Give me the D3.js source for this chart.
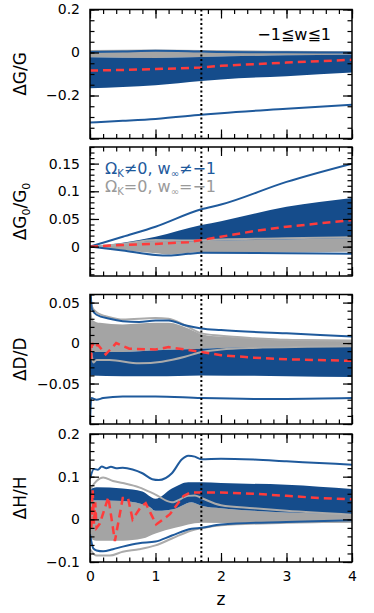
<!DOCTYPE html>
<html>
<head>
<meta charset="utf-8">
<script src="https://cdn.jsdelivr.net/npm/d3@7"></script>
<style>
  body { margin: 0; background: #fff; }
  svg { display: block; font-family: "DejaVu Sans", sans-serif; }
</style>
</head>
<body>
<svg id="chart"></svg>
<script>
const width = 374;
const height = 613;

// Redshift axis
const zTicks = [0, 1, 2, 3, 4];
const zMark = 1.7;

// Panel 1: dG/G
const gGrayHi = [[0, 0.012], [1, 0.014], [1.7, 0.012], [3, 0.008], [4, 0.006]];
const gGrayLo = [[0, -0.022], [1, -0.025], [1.7, -0.021], [3, -0.013], [4, -0.009]];
const gBlueHi = [[0, -0.022], [1, -0.025], [1.7, -0.021], [3, -0.013], [4, -0.009]];
const gBlueLo = [[0, -0.166], [0.5, -0.16], [1, -0.152], [1.7, -0.132], [2, -0.125], [3, -0.11], [4, -0.093]];
const gBlueUp = [[0, 0.002], [0.5, 0.005], [1, 0.008], [1.5, 0.006], [2, 0.002], [3, 0.001], [4, 0.0]];
const gBlueDown = [[0, -0.326], [0.5, -0.318], [1, -0.309], [1.7, -0.29], [2, -0.282], [3, -0.262], [4, -0.243]];
const gRed = [[0, -0.084], [0.5, -0.081], [1, -0.077], [1.7, -0.07], [2, -0.062], [3, -0.047], [4, -0.034]];

// Panel 2: dG0/G0
const g0GrayHi = [[0, 0], [0.5, 0.004], [1, 0.01], [1.5, 0.009], [2, 0.011], [3, 0.013], [4, 0.015]];
const g0GrayLo = [[0, 0], [0.5, -0.006], [1, -0.012], [1.2, -0.014], [1.7, -0.01], [2.5, -0.01], [4, -0.009]];
const g0BlueHi = [[0, 0], [0.5, 0.007], [1, 0.018], [1.7, 0.039], [2, 0.046], [3, 0.072], [4, 0.088]];
const g0BlueLo = [[0, 0], [0.5, 0.004], [1, 0.01], [1.5, 0.009], [2, 0.011], [3, 0.013], [4, 0.015]];
const g0BlueUp = [[0, 0], [0.5, 0.018], [1, 0.036], [1.7, 0.0675], [2, 0.076], [3, 0.117], [4, 0.15]];
const g0BlueDown = [[0, 0], [0.5, -0.007], [1, -0.015], [1.2, -0.016], [1.5, -0.013], [1.7, -0.011], [3, -0.012], [4, -0.013]];
const g0GrayUp = [[0, 0], [0.5, 0.005], [1, 0.012], [1.5, 0.011], [2, 0.013], [3, 0.015], [4, 0.017]];
const g0Red = [[0, 0], [0.5, 0.003], [1, 0.005], [1.5, 0.008], [1.7, 0.012], [2, 0.018], [2.5, 0.028], [3, 0.036], [3.5, 0.042], [4, 0.048]];

// Panel 3: dD/D
const dGrayHi = [[0, 0.062], [0.02, 0.04], [0.05, 0.028], [0.15, 0.025], [0.5, 0.023], [1, 0.025], [1.2, 0.025], [1.5, 0.018], [1.7, 0.011], [2, 0.008], [3, 0.005], [4, 0.004]];
const dGrayLo = [[0, -0.011], [0.5, -0.011], [1, -0.009], [1.7, -0.007], [2.5, -0.005], [4, -0.004]];
const dBlueHi = [[0, -0.011], [0.5, -0.011], [1, -0.009], [1.7, -0.007], [2.5, -0.005], [4, -0.004]];
const dBlueLo = [[0, -0.04], [0.5, -0.041], [1, -0.041], [1.7, -0.04], [3, -0.041], [4, -0.042]];
const dBlueUp = [[0, 0.075], [0.03, 0.042], [0.1, 0.035], [0.3, 0.03], [0.5, 0.027], [0.75, 0.026], [1, 0.028], [1.2, 0.028], [1.45, 0.022], [1.7, 0.018], [2, 0.016], [3, 0.012], [4, 0.008]];
const dBlueDown = [[0, -0.1], [0.02, -0.068], [0.1, -0.07], [0.2, -0.068], [0.5, -0.066], [1, -0.066], [1.7, -0.068], [2.5, -0.069], [3, -0.069], [4, -0.068]];
const dGrayUp = [[0, 0.07], [0.03, 0.045], [0.1, 0.038], [0.3, 0.032], [0.5, 0.029], [1, 0.031], [1.2, 0.03], [1.45, 0.022], [1.7, 0.012], [2, 0.009], [2.5, 0.006], [3, 0.004], [4, 0.003]];
const dGrayDown = [[0, -0.005], [0.02, -0.012], [0.05, -0.024], [0.1, -0.021], [0.3, -0.021], [0.75, -0.025], [1.1, -0.023], [1.45, -0.017], [1.7, -0.011], [2, -0.008], [2.5, -0.006], [4, -0.004]];
const dRed = [[0, -0.002], [0.015, -0.02], [0.03, 0.0], [0.06, -0.006], [0.12, -0.002], [0.24, -0.014], [0.4, 0.0], [0.6, -0.007], [1.0, -0.008], [1.2, -0.005], [1.45, -0.008], [1.7, -0.011], [2, -0.015], [2.5, -0.018], [3, -0.02], [4, -0.022]];

// Panel 4: dH/H
const hGrayHi = [[0, 0.045], [0.5, 0.043], [0.9, 0.03], [1.0, 0.02], [1.2, 0.022], [1.3, 0.025], [1.55, 0.04], [1.7, 0.032], [2, 0.026], [2.5, 0.02], [3, 0.016], [4, 0.012]];
const hGrayLo = [[0, -0.045], [0.1, -0.05], [0.5, -0.05], [0.8, -0.045], [1, -0.033], [1.3, -0.02], [1.7, -0.008], [2.5, -0.009], [4, -0.008]];
const hBlueHi = [[0, 0.07], [0.1, 0.075], [0.5, 0.072], [0.8, 0.065], [1.0, 0.048], [1.25, 0.072], [1.5, 0.087], [1.7, 0.087], [2, 0.085], [3, 0.081], [4, 0.071]];
const hBlueLo = [[0, 0.045], [0.5, 0.043], [0.9, 0.03], [1.0, 0.02], [1.2, 0.022], [1.3, 0.025], [1.55, 0.04], [1.7, 0.032], [2, 0.026], [2.5, 0.02], [3, 0.016], [4, 0.012]];
const hBlueUp = [[0, 0.095], [0.06, 0.118], [0.12, 0.116], [0.18, 0.124], [0.25, 0.12], [0.32, 0.123], [0.4, 0.12], [0.5, 0.121], [0.65, 0.117], [0.8, 0.108], [0.95, 0.094], [1.05, 0.092], [1.25, 0.108], [1.4, 0.14], [1.5, 0.149], [1.6, 0.147], [1.7, 0.141], [2, 0.142], [2.5, 0.14], [3, 0.136], [3.5, 0.132], [4, 0.128]];
const hBlueDown = [[0, -0.035], [0.05, -0.068], [0.1, -0.073], [0.2, -0.075], [0.35, -0.07], [0.5, -0.064], [0.75, -0.056], [1, -0.052], [1.25, -0.038], [1.55, -0.022], [1.7, -0.02], [2, -0.012], [3, -0.006], [4, -0.002]];
const hGrayUp = [[0, 0.07], [0.1, 0.09], [0.2, 0.098], [0.35, 0.09], [0.5, 0.085], [0.75, 0.075], [1, 0.058], [1.25, 0.04], [1.5, 0.055], [1.6, 0.056], [1.7, 0.05], [2, 0.033], [2.5, 0.026], [3, 0.02], [4, 0.011]];
const hGrayDown = [[0, -0.07], [0.1, -0.085], [0.3, -0.085], [0.5, -0.076], [0.75, -0.07], [1, -0.061], [1.25, -0.045], [1.55, -0.026], [1.7, -0.021], [2, -0.014], [3, -0.008], [4, -0.005]];
const hRed = [[0, 0.01], [0.02, -0.02], [0.04, 0.07], [0.06, -0.01], [0.08, 0.04], [0.1, -0.02], [0.15, -0.01], [0.28, 0.052], [0.38, -0.051], [0.5, 0.05], [0.58, 0.05], [0.65, 0.0], [0.78, 0.03], [0.85, 0.038], [1.01, -0.012], [1.22, 0.012], [1.43, 0.055], [1.53, 0.063], [1.7, 0.063], [2, 0.063], [2.5, 0.06], [3, 0.055], [3.5, 0.05], [4, 0.047]];

const blueFill = "#154c8b";
const blueLine = "#1f5a9c";
const grayFill = "#a4a4a4";
const grayLine = "#ababab";
const redLine = "#ff3b3b";

const panels = [
  { top: 9.5, bottom: 138.5, domain: [-0.4, 0.2], labels: [-0.2, 0, 0.2], major: [-0.4, -0.2, 0, 0.2], minor: 0.05,
    title: ["ΔG/G"], grayHi: gGrayHi, grayLo: gGrayLo, blueHi: gBlueHi, blueLo: gBlueLo,
    grayLines: [], blueLines: [gBlueUp, gBlueDown], red: gRed },
  { top: 147, bottom: 276, domain: [-0.053, 0.18], labels: [0, 0.05, 0.1, 0.15], major: [0, 0.05, 0.1, 0.15], minor: 0.01,
    title: ["ΔG", "0", "/G", "0"], grayHi: g0GrayHi, grayLo: g0GrayLo, blueHi: g0BlueHi, blueLo: g0BlueLo,
    grayLines: [g0GrayUp], blueLines: [g0BlueUp, g0BlueDown], red: g0Red },
  { top: 294.5, bottom: 424, domain: [-0.1, 0.06], labels: [-0.05, 0, 0.05], major: [-0.1, -0.05, 0, 0.05], minor: 0.01,
    title: ["ΔD/D"], grayHi: dGrayHi, grayLo: dGrayLo, blueHi: dBlueHi, blueLo: dBlueLo,
    grayLines: [dGrayUp, dGrayDown], blueLines: [dBlueUp, dBlueDown], red: dRed },
  { top: 434, bottom: 562, domain: [-0.1, 0.2], labels: [-0.1, 0, 0.1, 0.2], major: [-0.1, 0, 0.1, 0.2], minor: 0.02,
    title: ["ΔH/H"], grayHi: hGrayHi, grayLo: hGrayLo, blueHi: hBlueHi, blueLo: hBlueLo,
    grayLines: [hGrayUp, hGrayDown], blueLines: [hBlueUp, hBlueDown], red: hRed },
];

const left = 90;
const right = 352;

const svg = d3.select("#chart").attr("width", width).attr("height", height);

const x = d3.scaleLinear().domain([0, 4]).range([left, right]);
const xMinor = d3.range(0, 4.001, 0.2);

function bandPath(hi, lo, y) {
  // Upper edge left to right, lower edge back right to left.
  const line = d3.line().x((d) => x(d[0])).y((d) => y(d[1])).curve(d3.curveMonotoneX);
  const upper = line(hi);
  const lower = line(lo.slice().reverse());
  return upper + "L" + lower.slice(1) + "Z";
}

function drawPanel(p, i) {
  const y = d3.scaleLinear().domain(p.domain).range([p.bottom, p.top]);
  const g = svg.append("g");

  g.append("clipPath")
    .attr("id", "clip" + i)
    .append("rect")
    .attr("x", left)
    .attr("y", p.top)
    .attr("width", right - left)
    .attr("height", p.bottom - p.top);

  const plot = g.append("g").attr("clip-path", `url(#clip${i})`);

  plot.append("path").attr("d", bandPath(p.grayHi, p.grayLo, y)).attr("fill", grayFill);
  plot.append("path").attr("d", bandPath(p.blueHi, p.blueLo, y)).attr("fill", blueFill);

  const smooth = d3.line().x((d) => x(d[0])).y((d) => y(d[1])).curve(d3.curveMonotoneX);
  const straight = d3.line().x((d) => x(d[0])).y((d) => y(d[1]));

  p.grayLines.forEach((s) => {
    plot.append("path").attr("d", smooth(s)).attr("fill", "none")
      .attr("stroke", grayLine).attr("stroke-width", 2);
  });
  p.blueLines.forEach((s) => {
    plot.append("path").attr("d", smooth(s)).attr("fill", "none")
      .attr("stroke", blueLine).attr("stroke-width", 2);
  });

  plot.append("path").attr("d", straight(p.red)).attr("fill", "none")
    .attr("stroke", redLine).attr("stroke-width", 2.5)
    .attr("stroke-dasharray", "8,5");

  // Dotted marker at z = 1.7
  g.append("line")
    .attr("x1", x(zMark)).attr("x2", x(zMark))
    .attr("y1", p.top).attr("y2", p.bottom)
    .attr("stroke", "#000").attr("stroke-width", 2)
    .attr("stroke-dasharray", "2,2.5");

  // Ticks on all four sides, pointing inwards
  const yMinor = d3.range(p.domain[0], p.domain[1] + 1e-9, p.minor)
    .map((v) => Math.round(v / p.minor) * p.minor)
    .filter((v) => v >= p.domain[0] - 1e-9 && v <= p.domain[1] + 1e-9);
  const addAxis = (axis, tx, ty) => {
    const a = g.append("g").attr("transform", `translate(${tx},${ty})`).call(axis);
    a.select(".domain").remove();
    a.selectAll("line").attr("stroke", "#000").attr("stroke-width", 1.2);
    return a;
  };
  addAxis(d3.axisLeft(y).tickValues(yMinor).tickSize(-4.5).tickFormat(""), left, 0);
  addAxis(d3.axisRight(y).tickValues(yMinor).tickSize(-4.5).tickFormat(""), right, 0);
  addAxis(d3.axisRight(y).tickValues(p.major).tickSize(-9).tickFormat(""), right, 0);
  addAxis(d3.axisTop(x).tickValues(xMinor).tickSize(-4.5).tickFormat(""), 0, p.top);
  addAxis(d3.axisTop(x).tickValues(zTicks).tickSize(-9).tickFormat(""), 0, p.top);
  addAxis(d3.axisBottom(x).tickValues(xMinor).tickSize(-4.5).tickFormat(""), 0, p.bottom);

  const fmt = d3.format("~g");
  const yLab = addAxis(d3.axisLeft(y).tickValues(p.major).tickSize(-9).tickPadding(10)
    .tickFormat((d) => (p.labels.includes(d) ? fmt(d) : "")), left, 0);
  yLab.attr("font-size", 14).attr("font-family", "DejaVu Sans, sans-serif");
  yLab.selectAll("text").attr("fill", "#000");

  const xLab = addAxis(d3.axisBottom(x).tickValues(zTicks).tickSize(-9).tickPadding(9)
    .tickFormat(i === panels.length - 1 ? fmt : () => ""), 0, p.bottom);
  xLab.attr("font-size", 14).attr("font-family", "DejaVu Sans, sans-serif");
  xLab.selectAll("text").attr("fill", "#000");

  g.append("rect")
    .attr("x", left).attr("y", p.top)
    .attr("width", right - left).attr("height", p.bottom - p.top)
    .attr("fill", "none").attr("stroke", "#000").attr("stroke-width", 1.5);

  // Rotated axis title, with optional subscripts
  const cy = (p.top + p.bottom) / 2;
  const t = g.append("text")
    .attr("transform", `translate(26,${cy}) rotate(-90)`)
    .attr("text-anchor", "middle")
    .attr("font-size", 17);
  p.title.forEach((s, k) => {
    const sub = k % 2 === 1;
    t.append("tspan")
      .attr("font-size", sub ? 11 : 17)
      .attr("dy", sub ? 4 : k > 0 ? -4 : 0)
      .text(s);
  });
}

panels.forEach(drawPanel);

// Panel annotations
svg.append("text")
  .attr("x", 331).attr("y", 40)
  .attr("text-anchor", "end")
  .attr("font-size", 16)
  .text("−1≦w≦1");

function legendLine(yPos, color, parts) {
  const t = svg.append("text").attr("x", 105).attr("y", yPos).attr("font-size", 16).attr("fill", color);
  let shift = 0;
  parts.forEach(([s, sub]) => {
    const dy = (sub ? 3 : 0) - shift;
    shift = sub ? 3 : 0;
    t.append("tspan")
      .attr("font-size", sub ? 10 : 16)
      .attr("dy", dy)
      .text(s);
  });
}
legendLine(174, "#1f5a9c", [["Ω", false], ["K", true], ["≠0,  w", false], ["∞", true], ["≠−1", false]]);
legendLine(191.5, "#9a9a9a", [["Ω", false], ["K", true], ["=0,  w", false], ["∞", true], ["=−1", false]]);

svg.append("text")
  .attr("x", (left + right) / 2).attr("y", 605)
  .attr("text-anchor", "middle")
  .attr("font-size", 17)
  .text("z");
</script>
</body>
</html>
